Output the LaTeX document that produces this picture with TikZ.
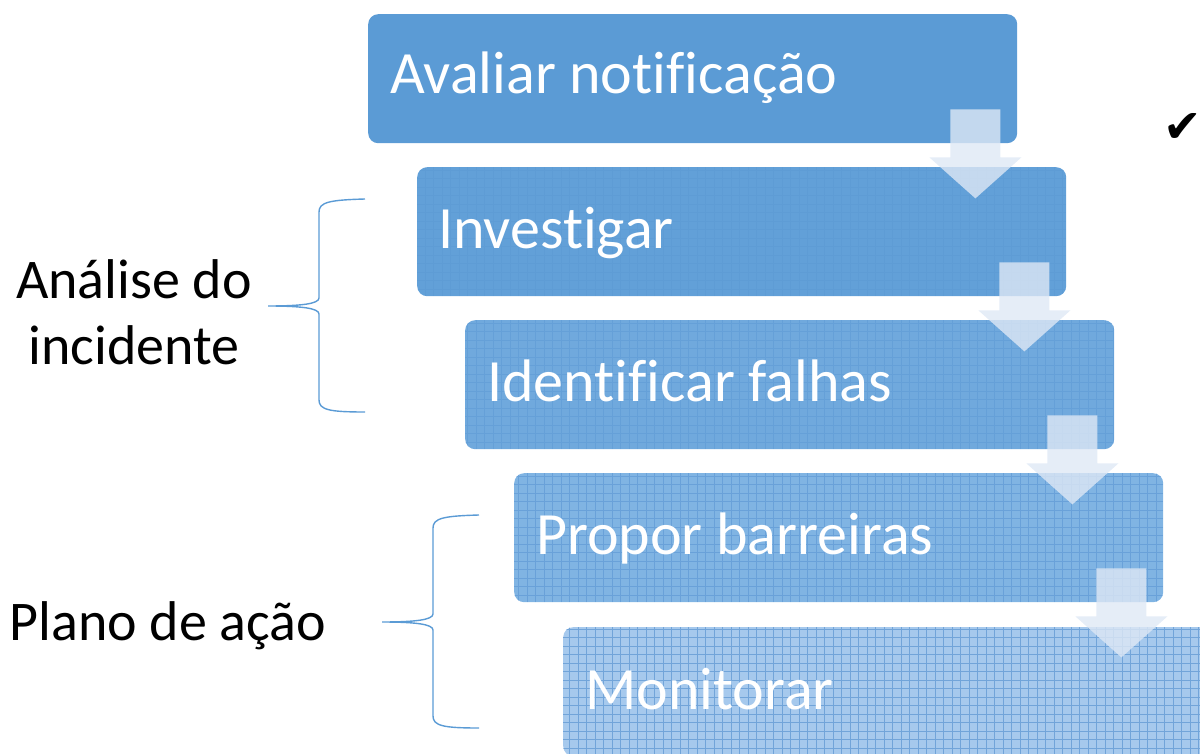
\documentclass[tikz,border=0pt]{standalone}
\usepackage{fontspec}
\setmainfont[RawFeature=-liga]{Carlito}
\newfontfamily\symbfont{DejaVu Sans}
\usetikzlibrary{positioning,calc}

\definecolor{stepA}{RGB}{91,155,213}
\definecolor{stepB}{RGB}{98,160,216}
\definecolor{stepC}{RGB}{112,169,221}
\definecolor{stepD}{RGB}{128,180,227}
\definecolor{stepE}{RGB}{166,201,237}
\definecolor{gridblue}{RGB}{78,140,205}
\definecolor{arrowfill}{RGB}{222,232,245}
\definecolor{braceblue}{RGB}{91,155,213}

\tikzset{
  stepbox/.style={rounded corners=10pt, minimum width=649pt, minimum height=129pt,
    anchor=north west, inner sep=0pt},
  steptext/.style={anchor=base west, text=white, inner sep=0pt,
    font=\fontsize{60}{64}\selectfont},
  downarrow/.style={fill=arrowfill, fill opacity=0.8},
  sidelabel/.style={font=\fontsize{56}{66}\selectfont, align=center},
  bracket/.style={draw=braceblue, line width=1.4pt}
}

\begin{document}
\begin{tikzpicture}[x=1pt,y=-1pt]
  \useasboundingbox (0,0) rectangle (1200,754);

  % etapas
  \node[stepbox, fill=stepA] (avaliar) at (368,14) {};
  \node[stepbox, fill=stepB] (investigar) at (417,167) {};
  \node[stepbox, fill=stepC] (identificar) at (465,320) {};
  \node[stepbox, fill=stepD] (propor) at (514,473) {};
  \node[stepbox, fill=stepE] (monitorar) at (563,627) {};

  % textura
  \foreach \b/\o in {investigar/0.2,identificar/0.3,propor/0.45,monitorar/0.6}{
    \begin{scope}
      \clip[rounded corners=10pt] (\b.south west) rectangle (\b.north east);
      \draw[gridblue, line width=0.8pt, opacity=\o, step=8.5pt]
        (\b.south west) grid (\b.north east);
    \end{scope}
  }

  \node[steptext] (t1) at ($(avaliar.south west)+(22,-50)$) {Avaliar notificação};
  \node[steptext] (t2) at ($(investigar.south west)+(21,-48)$) {Investigar};
  \node[steptext] (t3) at ($(identificar.south west)+(22,-48)$) {Identificar falhas};
  \node[steptext] (t4) at ($(propor.south west)+(22,-48)$) {Propor barreiras};
  \node[steptext] (t5) at ($(monitorar.south west)+(22,-47)$) {Monitorar};

  % setas
  \foreach \b in {avaliar,investigar,identificar,propor}
    \fill[downarrow] ($(\b.south east)+(-67,-34)$) -- ++(50,0) -- ++(0,48)
      -- ++(21,0) -- ++(-46,41) -- ++(-46,-41) -- ++(21,0) -- cycle;

  % chaves
  \draw[bracket] (365,199) .. controls (330,200) and (319,202) .. (319,212)
    -- (319,298) .. controls (319,304) and (300,306) .. (268,306)
    .. controls (300,306) and (319,308) .. (319,314)
    -- (319,400) .. controls (319,410) and (330,412) .. (365,412);
  \draw[bracket] (479,515) .. controls (444,516) and (433,518) .. (433,528)
    -- (433,614) .. controls (433,620) and (414,622) .. (382,622)
    .. controls (414,622) and (433,624) .. (433,630)
    -- (433,716) .. controls (433,726) and (444,728) .. (479,728);

  \node[sidelabel] (analise) at (134,312) {Análise do\\incidente};
  \node[sidelabel] (plano) at (168,626) {Plano de ação};

  \node[anchor=east, inner sep=0pt, font=\symbfont\fontsize{46}{46}\selectfont] (check) at (1202,128) {✔};
\end{tikzpicture}
\end{document}
